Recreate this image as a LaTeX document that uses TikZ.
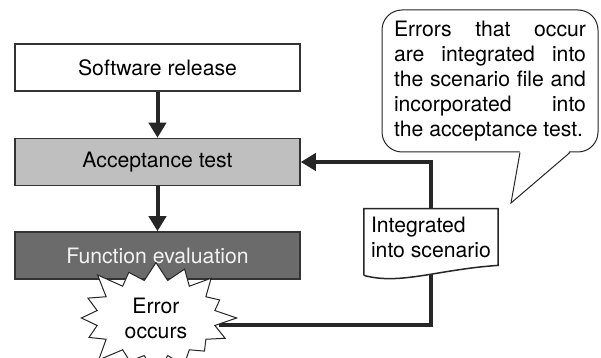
\documentclass[tikz,border=0pt]{standalone}
\usepackage{fontspec}
\setmainfont{TeX Gyre Heros}
\usetikzlibrary{arrows.meta, shapes.symbols, backgrounds}

\begin{document}
\begin{tikzpicture}[x=0.5pt, y=-0.5pt,
  every node/.style={font=\fontsize{10.6}{12.5}\selectfont},
  stage/.style={draw=black!80, line width=0.75pt, minimum width=142.5pt, minimum height=23.5pt},
  flow/.style={draw=black!85, line width=2pt, -{Triangle[length=7.5pt,width=8.5pt]}},
  burst/.style={starburst, draw=black!85, line width=0.5pt, fill=white, align=center,
    starburst points=16, starburst point height=12pt, minimum width=84pt, minimum height=58pt},
  sheet/.style={draw=black!85, line width=0.75pt, fill=white},
  remark/.style={draw=black!85, line width=0.5pt, fill=white, rounded corners=10pt,
    align=left, inner xsep=6pt, minimum width=108pt, minimum height=71pt}]
\useasboundingbox (0,0) rectangle (601,358);

% Nodes
\node[stage, fill=white] (rel) at (157.5,67.5) {Software release};
\node[stage, fill=black!25] (accept) at (157.5,162) {Acceptance test};
\node[stage, fill=black!58, text=black!5] (feval) at (157.5,255.5) {Function evaluation};
\node[burst] (err) at (156,318) {Error\\occurs};
\node[align=left, minimum width=66pt, minimum height=28pt] (doc) at (431,237) {Integrated\\into scenario};

% Main flow
\draw[flow] (rel) -- (accept);
\draw[flow] (accept) -- (feval);

% Feedback into the acceptance test
\begin{pgfonlayer}{background}
\draw[flow] (err.-6) -| (doc.center) |- (accept.east);
\draw[sheet] ([yshift=-5pt]doc.south west) -- (doc.north west) -- (doc.north east) -- (doc.south east)
  .. controls +(-30pt,-2pt) and +(18pt,-5pt) .. ([yshift=-5pt]doc.south west);
\end{pgfonlayer}

% Callout
\node[remark] (note) at (490,81) {\makebox[96pt][s]{Errors that occur}\\
  \makebox[96pt][s]{are integrated into}\\
  \makebox[96pt][s]{the scenario file and}\\
  \makebox[96pt][s]{incorporated into}\\
  the acceptance test.};
\coordinate (tip) at (511,203);
\fill[white] ([xshift=15pt,yshift=1pt]note.south) -- (tip) -- ([xshift=40pt,yshift=1pt]note.south) -- cycle;
\draw[black!85, line width=0.5pt] ([xshift=15pt]note.south) -- (tip) -- ([xshift=40pt]note.south);

\end{tikzpicture}
\end{document}
